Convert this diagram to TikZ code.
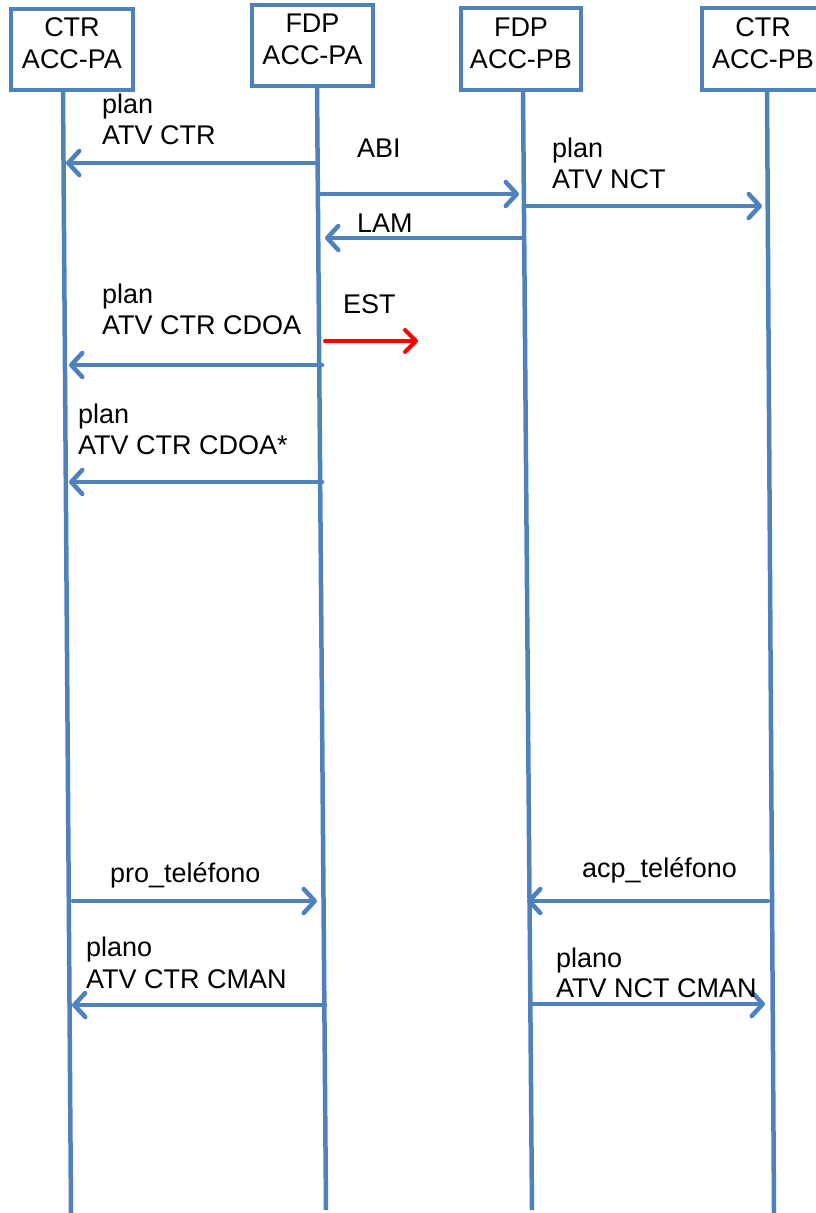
\documentclass[tikz,border=0pt]{standalone}
\usepackage{fontspec}
\setmainfont{Liberation Sans}
\usetikzlibrary{arrows.meta}
\definecolor{lblue}{HTML}{4F81BD}
\definecolor{ered}{HTML}{FF0000}
\begin{document}
\begin{tikzpicture}[x=1pt,y=-1pt,
  every node/.style={font=\fontsize{27}{31}\selectfont, inner sep=0pt},
  actor/.style={draw=lblue, line width=4.5pt, align=center, fill=white,
     font=\fontsize{27}{32}\selectfont, text depth=12pt},
  life/.style={draw=lblue, line width=4.5pt},
  msg/.style={draw=lblue, line width=4.5pt, line cap=round,
     -{Straight Barb[round,length=11pt,width=24pt]}},
  redmsg/.style={draw=ered, line width=4pt, line cap=round,
     -{Straight Barb[round,length=11pt,width=22pt]}},
  lbl/.style={anchor=base west, align=left}]
\useasboundingbox (0,0) rectangle (815,1213);
% lifelines
\coordinate (t1) at (63,90);  \coordinate (b1) at (71,1213);
\coordinate (t2) at (317,86); \coordinate (b2) at (326,1210);
\coordinate (t3) at (523,90); \coordinate (b3) at (532,1210);
\coordinate (t4) at (767,90); \coordinate (b4) at (774,1213);
\draw[life] (t1) -- (b1);
\draw[life] (t2) -- (b2);
\draw[life] (t3) -- (b3);
\draw[life] (t4) -- (b4);
% actors
\node[actor, minimum width=122pt, minimum height=81pt] (c1) at (72,49.5) {CTR\\ACC-PA};
\node[actor, minimum width=121pt, minimum height=81pt] (c2) at (312.5,45.5) {FDP\\ACC-PA};
\node[actor, minimum width=120pt, minimum height=82pt] (c3) at (521,49) {FDP\\ACC-PB};
\node[actor, minimum width=122pt, minimum height=82pt] (c4) at (763,49) {CTR\\ACC-PB};
% message endpoints
\coordinate (a1s) at (317,163);  \coordinate (a1e) at (66,163);
\coordinate (a2s) at (320,194);  \coordinate (a2e) at (519,194);
\coordinate (a3s) at (525,206);  \coordinate (a3e) at (762,206);
\coordinate (a4s) at (522,238);  \coordinate (a4e) at (325,238);
\coordinate (a5s) at (322,365);  \coordinate (a5e) at (69,365);
\coordinate (a6s) at (325,341);  \coordinate (a6e) at (418,341);
\coordinate (a7s) at (322,482);  \coordinate (a7e) at (69,482);
\coordinate (a8s) at (73,901);   \coordinate (a8e) at (317,901);
\coordinate (a9s) at (768,901);  \coordinate (a9e) at (527,901);
\coordinate (a10s) at (325,1005); \coordinate (a10e) at (72,1005);
\coordinate (a11s) at (531,1004); \coordinate (a11e) at (765,1004);
\draw[msg] (a1s) -- (a1e);
\draw[msg] (a2s) -- (a2e);
\draw[msg] (a3s) -- (a3e);
\draw[msg] (a4s) -- (a4e);
\draw[msg] (a5s) -- (a5e);
\draw[redmsg] (a6s) -- (a6e);
\draw[msg] (a7s) -- (a7e);
\draw[msg] (a8s) -- (a8e);
\draw[msg] (a9s) -- (a9e);
\draw[msg] (a10s) -- (a10e);
\draw[msg] (a11s) -- (a11e);
% labels (multi-line: anchor at baseline of last line)
\node[lbl] (l1) at (102,144) {plan\\ATV CTR};
\node[lbl] (l2) at (357,157) {ABI};
\node[lbl] (l3) at (552,188) {plan\\ATV NCT};
\node[lbl] (l4) at (357,232) {LAM};
\node[lbl] (l5) at (102,334) {plan\\ATV CTR CDOA};
\node[lbl] (l6) at (343,313) {EST};
\node[lbl] (l7) at (78,454) {plan\\ATV CTR CDOA*};
\node[lbl] (l8) at (110,882) {pro\_teléfono};
\node[lbl] (l9) at (582,877) {acp\_teléfono};
\node[lbl, font=\fontsize{27}{32}\selectfont] (l10) at (86,988) {plano\\ATV CTR CMAN};
\node[lbl, font=\fontsize{27}{30}\selectfont] (l11) at (556,997) {plano\\ATV NCT CMAN};
\end{tikzpicture}
\end{document}
